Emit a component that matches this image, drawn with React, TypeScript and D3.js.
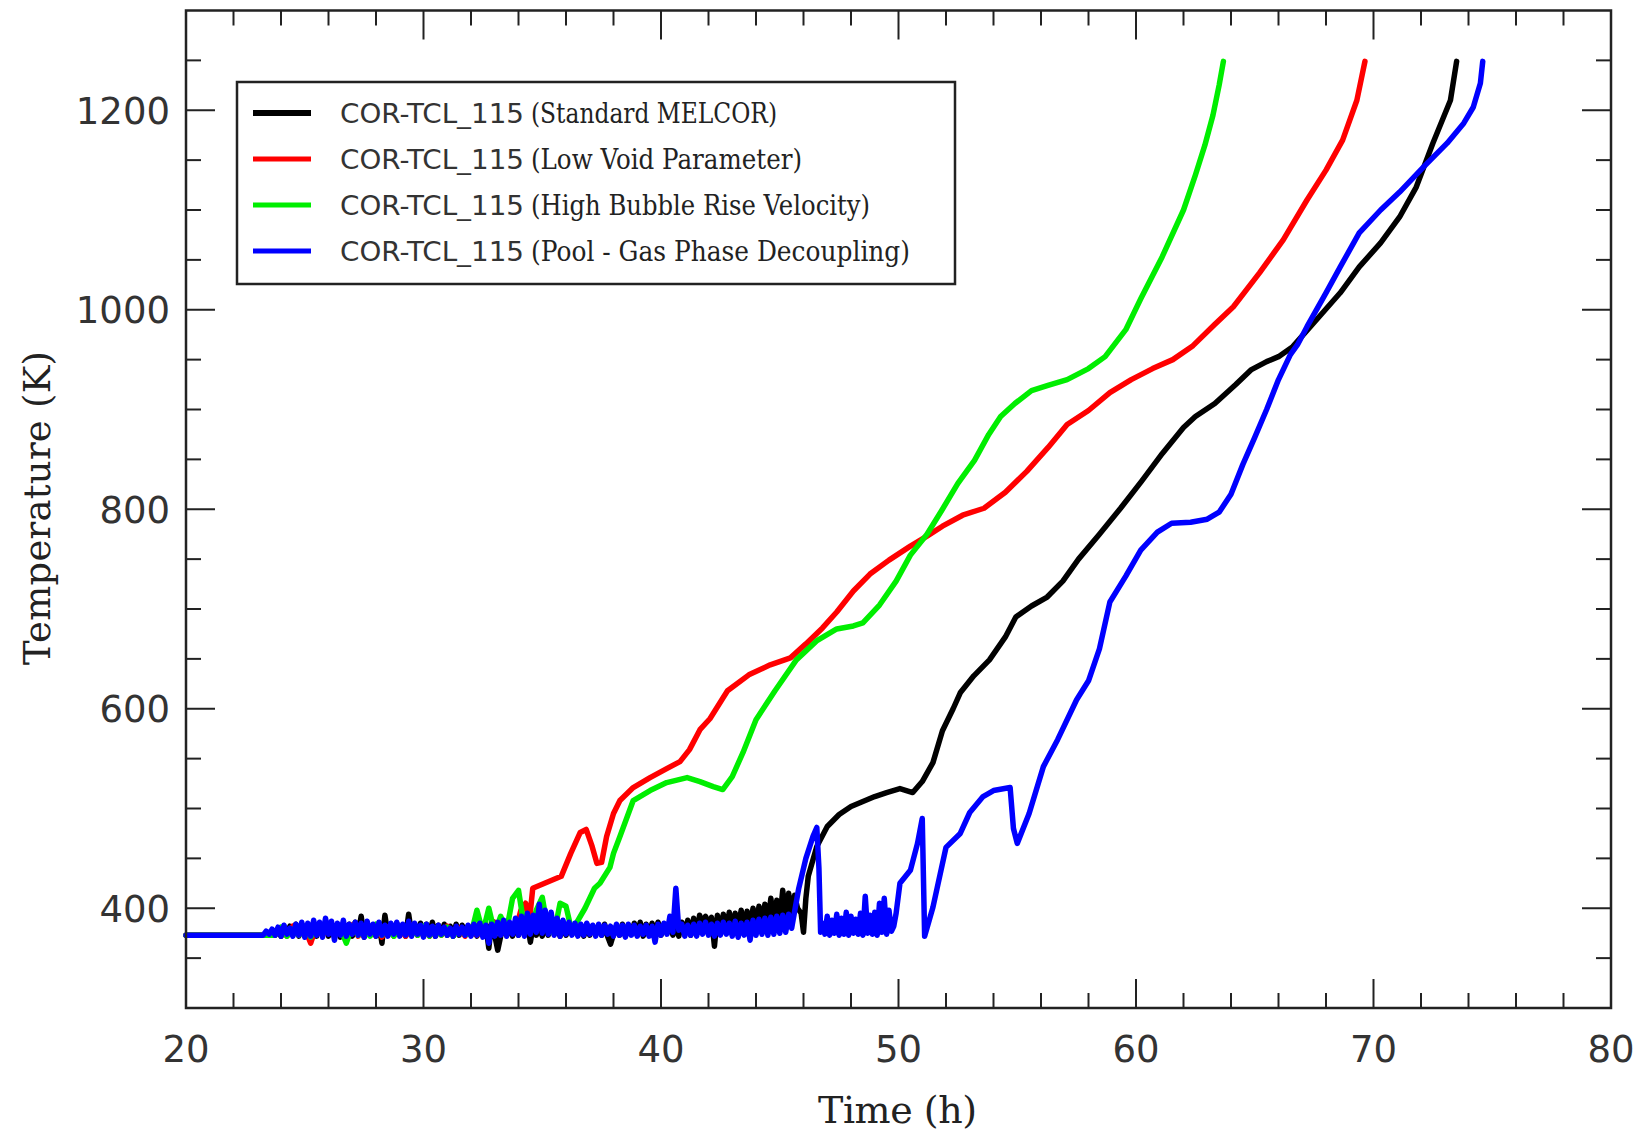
import React from "react";
import * as d3 from "d3";

// ---------- axis definitions ----------
const xDomain: [number, number] = [20, 80];
const yDomain: [number, number] = [300, 1300];
const xMajorTicks = [20, 30, 40, 50, 60, 70, 80];
const xMinorTicks = [22, 24, 26, 28, 32, 34, 36, 38, 42, 44, 46, 48, 52, 54, 56, 58, 62, 64, 66, 68, 72, 74, 76, 78];
const yMajorTicks = [400, 600, 800, 1000, 1200];
const yMinorTicks = [350, 450, 500, 550, 650, 700, 750, 850, 900, 950, 1050, 1100, 1150, 1250];
const xTitle = "Time (h)";
const yTitle = "Temperature (K)";

// ---------- series data ----------
const seriesNames = [
  "(Standard MELCOR)",
  "(Low Void Parameter)",
  "(High Bubble Rise Velocity)",
  "(Pool - Gas Phase Decoupling)",
];
const seriesPrefix = "COR-TCL_115";
const seriesColors = ["#000000", "#ff0000", "#00ee00", "#0000ff"];

const flatStart: [number, number][] = [[20, 373], [23.0, 373]];

// Standard MELCOR (black)
const blackNoiseStart = 23.75;
const blackNoiseStep = 0.125;
const blackNoise = [
  373, 378, 372, 380, 374, 382, 373, 384, 372, 381, 374, 383, 373, 385, 372, 382,
  374, 383, 372, 384, 373, 382, 371, 385, 373, 384, 372, 386, 374, 392, 371, 384,
  373, 383, 372, 385, 365, 393, 373, 384, 372, 385, 373, 383, 372, 394, 374, 384,
  373, 385, 372, 384, 373, 386, 372, 383, 374, 384, 373, 382, 372, 384, 373, 383,
  374, 382, 373, 384, 372, 385, 374, 383, 360, 388, 373, 358, 372, 384, 373, 383,
  372, 384, 373, 383, 374, 385, 366, 384, 373, 382, 372, 384, 373, 383, 374, 382,
  372, 383, 373, 384, 374, 382, 373, 383, 372, 384, 373, 382, 374, 383, 373, 384,
  372, 364, 374, 382, 373, 384, 372, 383, 374, 385, 373, 386, 372, 384, 373, 385,
  374, 386, 373, 384, 375, 385, 373, 383, 372, 386, 374, 388, 373, 390, 374, 393,
  385, 392, 384, 391, 362, 393, 376, 394, 377, 396, 378, 395, 380, 398, 379, 397,
  381, 400, 380, 402, 383, 404, 384, 410, 386, 408, 388, 418, 390, 415, 392, 413,
  400,
];
const blackCurve: [number, number][] = [
  [45.9, 395], [46.0, 376], [46.1, 410], [46.2, 432], [46.56, 462], [47.0, 482], [47.5, 494],
  [48.0, 502], [48.4, 506], [49.0, 512], [49.5, 516], [50.06, 520], [50.6, 516], [51.0, 527],
  [51.45, 546], [51.85, 578], [52.3, 600], [52.6, 616], [53.17, 633], [53.83, 649], [54.5, 672],
  [54.94, 692], [55.6, 703], [56.26, 712], [56.92, 728], [57.58, 750], [58.46, 775], [59.35, 801],
  [60.23, 828], [61.11, 856], [62.0, 882], [62.5, 893], [63.32, 906], [64.2, 925], [64.86, 940],
  [65.5, 948], [66.0, 953], [66.6, 963], [67.6, 990], [68.6, 1017], [69.4, 1043], [70.3, 1067],
  [71.1, 1093], [71.8, 1123], [72.5, 1167], [73.24, 1210], [73.5, 1249],
];

// Low Void Parameter (red)
const redNoiseStart = 23.75;
const redNoiseStep = 0.25;
const redNoise = [
  373, 379, 372, 382, 374, 380, 365, 383, 373, 381, 372, 379, 374, 383, 372, 380,
  373, 382, 371, 381, 374, 379, 372, 383, 373, 380, 372, 378, 373, 382, 374, 380,
  372, 381, 373, 384, 372, 386, 374, 383, 375,
];
const redCurve: [number, number][] = [
  [33.9, 380], [34.1, 398], [34.3, 405], [34.45, 385], [34.6, 420], [35.1, 425], [35.8, 432],
  [36.2, 455], [36.6, 476], [36.85, 479], [37.1, 462], [37.3, 445], [37.5, 446], [37.71, 472],
  [38.0, 495], [38.27, 508], [38.83, 521], [39.54, 531], [40.24, 540], [40.8, 547], [41.2, 559],
  [41.64, 579], [42.06, 590], [42.8, 618], [43.7, 634], [44.6, 644], [45.45, 651], [46.1, 665],
  [46.8, 681], [47.4, 697], [48.1, 718], [48.8, 735], [49.6, 749], [50.5, 763], [51.2, 773],
  [51.85, 783], [52.7, 794], [53.6, 801], [54.5, 817], [55.4, 838], [56.3, 862], [57.1, 885],
  [58.0, 899], [58.9, 917], [59.8, 930], [60.7, 941], [61.55, 950], [62.4, 964], [63.3, 985],
  [64.1, 1003], [65.2, 1037], [66.2, 1070], [67.2, 1110], [68.0, 1140], [68.7, 1170],
  [69.3, 1210], [69.64, 1249],
];

// High Bubble Rise Velocity (green)
const greenNoiseStart = 23.75;
const greenNoiseStep = 0.25;
const greenNoise = [
  373, 381, 372, 379, 373, 382, 371, 380, 374, 383, 372, 380, 365, 382, 373, 379,
  372, 384, 373, 380, 372, 381, 374, 379, 373, 382, 372, 380, 373, 381, 372, 378,
  374, 374, 398, 376, 400, 375, 392, 378, 410, 418, 380, 376, 398, 411, 377, 375,
  405, 402, 376,
];
const greenCurve: [number, number][] = [
  [36.46, 386], [36.8, 400], [37.2, 420], [37.43, 425], [37.85, 441], [38.0, 455], [38.27, 472],
  [38.83, 508], [39.54, 518], [40.24, 526], [41.1, 531], [41.64, 527], [42.2, 522], [42.6, 519],
  [43.0, 532], [43.45, 556], [44.0, 589], [44.8, 618], [45.7, 649], [46.55, 668], [47.4, 680],
  [48.1, 683], [48.5, 686], [49.2, 704], [49.9, 728], [50.5, 754], [51.2, 775], [51.85, 800],
  [52.5, 826], [53.2, 849], [53.8, 875], [54.3, 893], [54.9, 906], [55.6, 919], [56.26, 924],
  [57.1, 930], [58.0, 941], [58.7, 953], [59.57, 980], [60.2, 1011], [61.1, 1053], [62.0, 1100],
  [62.5, 1135], [62.9, 1165], [63.24, 1195], [63.5, 1225], [63.68, 1249],
];

// Pool - Gas Phase Decoupling (blue)
const blueNoiseAStart = 23.25;
const blueNoiseAStep = 0.125;
const blueNoiseA = [
  373, 377, 374, 379, 373, 381, 372, 383, 374, 380, 372, 384, 373, 386, 371, 385,
  372, 388, 373, 386, 371, 390, 374, 387, 368, 385, 373, 388, 372, 384, 374, 386,
  373, 385, 371, 387, 374, 384, 372, 386, 373, 383, 372, 385, 374, 386, 372, 384,
  373, 387, 372, 385, 374, 383, 371, 384, 373, 382, 372, 383, 374, 381, 373, 380,
  372, 382, 374, 381, 373, 383, 372, 384, 373, 385, 371, 383, 365, 384, 372, 386,
  373, 388, 372, 386, 374, 390, 373, 392, 372, 395, 374, 393, 376, 404, 375, 398,
  374, 396, 373, 390, 372, 388, 374, 386, 373, 385, 372, 384, 373, 385, 374, 383,
  372, 384, 373, 383, 374, 382, 372, 384, 373, 383, 371, 384, 373, 383, 372, 382,
  374, 383, 372, 382, 366, 384, 373, 385, 374, 392, 376, 420, 378, 384, 372, 383,
  373, 384, 372, 385, 374, 386, 373, 384, 372, 385, 373, 386, 374, 385, 372, 387,
  371, 385, 373, 386, 368, 388, 373, 389, 374, 390, 373, 391, 374, 392, 375, 393,
  376, 394, 380,
];
const blueSpike: [number, number][] = [
  [45.8, 420], [46.1, 450], [46.4, 472], [46.56, 481], [46.65, 440], [46.72, 376],
];
const blueNoiseBStart = 46.8;
const blueNoiseBStep = 0.1;
const blueNoiseB = [
  385, 374, 392, 373, 388, 375, 394, 373, 390, 374, 396, 373, 392, 375, 389, 374,
  395, 373, 412, 375, 393, 374, 396, 373, 405, 376, 410, 374, 398, 377, 382,
];
const blueCurve: [number, number][] = [
  [49.9, 395], [50.06, 425], [50.5, 438], [50.8, 465], [51.0, 490], [51.1, 372], [51.45, 401],
  [52.0, 461], [52.6, 475], [53.0, 496], [53.56, 512], [54.0, 518], [54.7, 521], [54.84, 480],
  [55.0, 465], [55.5, 495], [56.1, 542], [56.7, 569], [57.5, 609], [58.0, 628], [58.46, 660],
  [58.9, 707], [59.57, 733], [60.2, 759], [60.9, 777], [61.5, 786], [62.3, 787], [63.0, 790],
  [63.5, 797], [64.0, 815], [64.5, 845], [65.0, 872], [65.5, 900], [66.0, 930], [66.5, 955],
  [66.8, 965], [67.2, 983], [68.0, 1017], [68.6, 1043], [69.4, 1077], [70.3, 1100], [71.1, 1118],
  [72.1, 1143], [73.1, 1167], [73.8, 1187], [74.2, 1203], [74.5, 1227], [74.6, 1249],
];

function expand(start: number, step: number, values: number[]): [number, number][] {
  return values.map((v, i) => [start + i * step, v] as [number, number]);
}

const seriesPoints: [number, number][][] = [
  [...flatStart, ...expand(blackNoiseStart, blackNoiseStep, blackNoise), ...blackCurve],
  [...flatStart, ...expand(redNoiseStart, redNoiseStep, redNoise), ...redCurve],
  [...flatStart, ...expand(greenNoiseStart, greenNoiseStep, greenNoise), ...greenCurve],
  [
    ...flatStart,
    ...expand(blueNoiseAStart, blueNoiseAStep, blueNoiseA),
    ...blueSpike,
    ...expand(blueNoiseBStart, blueNoiseBStep, blueNoiseB),
    ...blueCurve,
  ],
];

const legendSuffixLengths = [246, 271, 339, 379];

export default function App() {
  const left = 186, right = 1611, top = 10.5, bottom = 1008;
  const x = d3.scaleLinear().domain(xDomain).range([left, right]);
  const y = d3.scaleLinear().domain(yDomain).range([bottom, top]);
  const line = d3
    .line<[number, number]>()
    .x((d) => x(d[0]))
    .y((d) => y(d[1]));

  const axisColor = "#222";
  const majorLen = 29;
  const minorLen = 15;
  const tickFont = "'DejaVu Sans', sans-serif";
  const serifFont = "'DejaVu Serif', serif";

  const legend = { x: 237, y: 82, w: 718, h: 202 };
  const rowBase = [123, 169, 215, 261];

  return (
    <svg
      width={1642}
      height={1132}
      style={{ position: "absolute", left: 0, top: 0, display: "block", background: "#fff" }}
    >
      <rect x={0} y={0} width={1642} height={1132} fill="#fff" />

      {/* data lines */}
      {seriesPoints.map((pts, i) => (
        <path
          key={i}
          d={line(pts) || ""}
          fill="none"
          stroke={seriesColors[i]}
          strokeWidth={5.5}
          strokeLinejoin="round"
          strokeLinecap="round"
        />
      ))}

      {/* ticks */}
      <g stroke={axisColor} strokeWidth={2}>
        {xMajorTicks.map((t) => (
          <g key={"xM" + t}>
            <line x1={x(t)} x2={x(t)} y1={bottom} y2={bottom - majorLen} />
            <line x1={x(t)} x2={x(t)} y1={top} y2={top + majorLen} />
          </g>
        ))}
        {xMinorTicks.map((t) => (
          <g key={"xm" + t}>
            <line x1={x(t)} x2={x(t)} y1={bottom} y2={bottom - minorLen} />
            <line x1={x(t)} x2={x(t)} y1={top} y2={top + minorLen} />
          </g>
        ))}
        {yMajorTicks.map((t) => (
          <g key={"yM" + t}>
            <line x1={left} x2={left + majorLen} y1={y(t)} y2={y(t)} />
            <line x1={right} x2={right - majorLen} y1={y(t)} y2={y(t)} />
          </g>
        ))}
        {yMinorTicks.map((t) => (
          <g key={"ym" + t}>
            <line x1={left} x2={left + minorLen} y1={y(t)} y2={y(t)} />
            <line x1={right} x2={right - minorLen} y1={y(t)} y2={y(t)} />
          </g>
        ))}
      </g>

      {/* frame */}
      <rect
        x={left}
        y={top}
        width={right - left}
        height={bottom - top}
        fill="none"
        stroke={axisColor}
        strokeWidth={2.5}
      />

      {/* tick labels */}
      <g fontFamily={tickFont} fontSize={37} fill="#333">
        {xMajorTicks.map((t) => (
          <text key={"xl" + t} x={x(t)} y={1062} textAnchor="middle">
            {t}
          </text>
        ))}
        {yMajorTicks.map((t) => (
          <text key={"yl" + t} x={170} y={y(t) + 13.5} textAnchor="end">
            {t}
          </text>
        ))}
      </g>

      {/* axis titles */}
      <text
        x={897.5}
        y={1123}
        textAnchor="middle"
        fontFamily={serifFont}
        fontSize={38}
        fill="#222"
        textLength={159}
        lengthAdjust="spacing"
      >
        {xTitle}
      </text>
      <text
        transform="translate(50,508) rotate(-90)"
        textAnchor="middle"
        fontFamily={serifFont}
        fontSize={37}
        fill="#222"
        textLength={314}
        lengthAdjust="spacing"
      >
        {yTitle}
      </text>

      {/* legend */}
      <rect
        x={legend.x}
        y={legend.y}
        width={legend.w}
        height={legend.h}
        fill="#fff"
        stroke={axisColor}
        strokeWidth={2.5}
      />
      {seriesNames.map((name, i) => (
        <g key={"lg" + i}>
          <line
            x1={253}
            x2={311}
            y1={rowBase[i] - 10}
            y2={rowBase[i] - 10}
            stroke={seriesColors[i]}
            strokeWidth={i === 0 ? 6 : 5}
          />
          <text
            x={340}
            y={rowBase[i]}
            fontFamily={tickFont}
            fontSize={26}
            fill="#333"
            textLength={184}
            lengthAdjust="spacingAndGlyphs"
          >
            {seriesPrefix}
          </text>
          <text
            x={531}
            y={rowBase[i]}
            fontFamily={serifFont}
            fontSize={27}
            fill="#222"
            textLength={legendSuffixLengths[i]}
            lengthAdjust="spacingAndGlyphs"
          >
            {name}
          </text>
        </g>
      ))}
    </svg>
  );
}
